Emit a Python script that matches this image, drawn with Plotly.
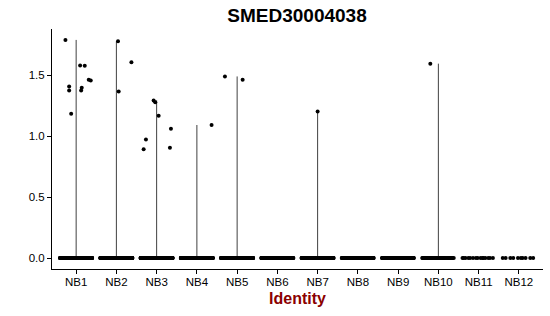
import numpy as np
import plotly.graph_objects as go

# ---- data ----
groups = ["NB1", "NB2", "NB3", "NB4", "NB5", "NB6",
          "NB7", "NB8", "NB9", "NB10", "NB11", "NB12"]

# non-zero expression values per group
nz_values = {
    "NB1": [1.792, 1.41, 1.377, 1.185, 1.582, 1.579, 1.40, 1.377, 1.464, 1.459],
    "NB2": [1.781, 1.369, 1.609],
    "NB3": [1.295, 1.279, 1.169, 0.975, 0.893, 1.062, 0.907],
    "NB4": [1.093],
    "NB5": [1.492, 1.464],
    "NB6": [],
    "NB7": [1.205],
    "NB8": [],
    "NB9": [],
    "NB10": [1.597],
    "NB11": [],
    "NB12": [],
}
# horizontal jitter of those points (category units)
nz_jitter = {
    "NB1": [-0.266, -0.174, -0.174, -0.124, 0.099, 0.214, 0.139, 0.124, 0.313, 0.363],
    "NB2": [0.04, 0.057, 0.373],
    "NB3": [-0.075, -0.035, 0.05, -0.266, -0.323, 0.355, 0.33],
    "NB4": [0.365],
    "NB5": [-0.303, 0.137],
    "NB6": [],
    "NB7": [0.0],
    "NB8": [],
    "NB9": [],
    "NB10": [-0.2],
    "NB11": [],
    "NB12": [],
}
# number of cells with zero expression per group (estimated)
zero_counts = [300, 300, 300, 300, 300, 160, 160, 130, 110, 40, 15, 10]

y_ticks = [0.0, 0.5, 1.0, 1.5]
y_tick_labels = ["0.0", "0.5", "1.0", "1.5"]

fig = go.Figure()

# violins (collapse to thin lines from 0 to group maximum)
for i, g in enumerate(groups):
    vals = [0.0] + nz_values[g]
    vmax = max(vals)
    if vmax > 0:
        fig.add_trace(go.Scatter(
            x=[i, i], y=[0.0, vmax], mode="lines",
            line=dict(color="#404040", width=1),
            hoverinfo="skip", showlegend=False))

# jittered points
px, py = [], []
phi = (np.sqrt(5) - 1) / 2
for i, g in enumerate(groups):
    n0 = zero_counts[i]
    offs = ((np.arange(n0) * phi) % 1.0) * 0.8 - 0.4
    px.extend(list(i + offs))
    py.extend([0.0] * n0)
    px.extend([i + j for j in nz_jitter[g]])
    py.extend(nz_values[g])

fig.add_trace(go.Scatter(
    x=px, y=py, mode="markers",
    marker=dict(color="black", size=4, line=dict(width=0)),
    hoverinfo="skip", showlegend=False))

all_vals = [v for g in groups for v in nz_values[g]] + [0.0]
ymax = max(all_vals)
pad = 0.05 * ymax

fig.update_layout(
    width=550, height=316,
    margin=dict(l=51.5, r=7.4, t=29, b=47),
    paper_bgcolor="white", plot_bgcolor="white",
    font=dict(family="Liberation Sans, Arial, sans-serif", color="black", size=11.5),
    title=dict(text="<b>SMED30004038</b>", x=0.54, xanchor="center",
               y=0.953, yanchor="middle",
               font=dict(size=19, color="black")),
    xaxis=dict(
        range=[-0.6, len(groups) - 1 + 0.6],
        tickmode="array", tickvals=list(range(len(groups))), ticktext=groups,
        showgrid=False, zeroline=False,
        showline=True, linecolor="black", linewidth=1,
        ticks="outside", ticklen=4, tickcolor="black", tickwidth=1,
        ticklabelstandoff=-2,
        tickfont=dict(size=11.5, color="black"),
        title=dict(text="<b>Identity</b>", standoff=6,
                   font=dict(size=16, color="#8B0000")),
    ),
    yaxis=dict(
        range=[0.0 - pad, ymax + pad],
        tickmode="array", tickvals=y_ticks, ticktext=y_tick_labels,
        showgrid=False, zeroline=False,
        showline=True, linecolor="black", linewidth=1,
        ticks="outside", ticklen=4, tickcolor="black", tickwidth=1,
        tickfont=dict(size=11.5, color="black"),
    ),
)

fig.write_html("out.html")
